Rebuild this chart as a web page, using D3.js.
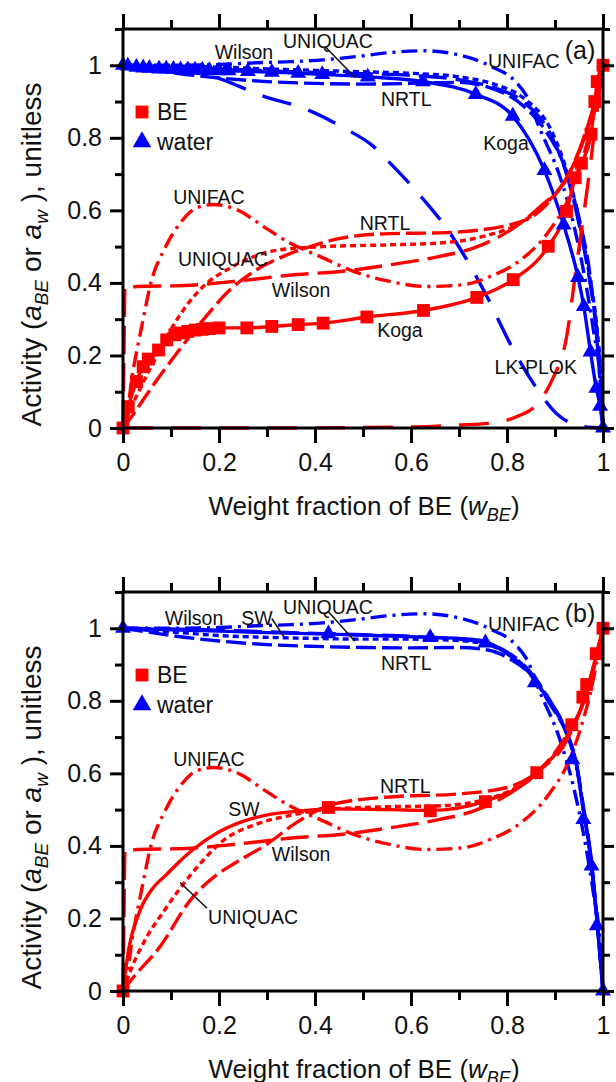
<!DOCTYPE html>
<html>
<head>
<meta charset="utf-8">
<script src="https://cdn.jsdelivr.net/npm/d3@7"></script>
<style>
  body { margin: 0; background: #fff; }
  svg { display: block; }
  text { font-family: "Liberation Sans", Arial, sans-serif; fill: #111; }
</style>
</head>
<body>
<svg id="chart" width="616" height="1082"></svg>
<script>
const xTicks = [0, 0.2, 0.4, 0.6, 0.8, 1]
const yTicks = [0, 0.2, 0.4, 0.6, 0.8, 1]
const xMinor = [0.1, 0.3, 0.5, 0.7, 0.9]
const yMinor = [0.1, 0.3, 0.5, 0.7, 0.9, 1.1]

// panel (a) measured data, Koga
const beKogaA = [[0, 0], [0.011, 0.059], [0.028, 0.128], [0.042, 0.169], [0.053, 0.19], [0.074, 0.215], [0.091, 0.243], [0.108, 0.257], [0.12, 0.262], [0.135, 0.266], [0.15, 0.27], [0.165, 0.272], [0.18, 0.274], [0.2, 0.276], [0.258, 0.276], [0.31, 0.28], [0.365, 0.285], [0.417, 0.289], [0.508, 0.306], [0.626, 0.324], [0.737, 0.36], [0.813, 0.409], [0.886, 0.501], [0.924, 0.597], [0.942, 0.69], [0.955, 0.73], [0.975, 0.81], [0.983, 0.9], [0.988, 0.955], [1, 1]]
const waterKogaA = [[0, 1], [0.01, 0.998], [0.028, 0.995], [0.042, 0.993], [0.055, 0.992], [0.075, 0.99], [0.09, 0.99], [0.105, 0.989], [0.12, 0.988], [0.135, 0.988], [0.15, 0.987], [0.165, 0.987], [0.18, 0.986], [0.2, 0.985], [0.22, 0.985], [0.26, 0.983], [0.31, 0.981], [0.365, 0.978], [0.415, 0.975], [0.51, 0.968], [0.625, 0.955], [0.735, 0.92], [0.812, 0.86], [0.878, 0.71], [0.918, 0.56], [0.948, 0.415], [0.96, 0.335], [0.974, 0.21], [0.986, 0.11], [0.994, 0.06], [1, 0]]

// panel (b) measured data
const beDataB = [[0, 0], [0.428, 0.506], [0.64, 0.497], [0.755, 0.522], [0.862, 0.602], [0.935, 0.734], [0.958, 0.81], [0.966, 0.845], [0.986, 0.93], [1, 1]]
const waterDataB = [[0, 1], [0.428, 0.985], [0.64, 0.975], [0.755, 0.96], [0.858, 0.85], [0.936, 0.638], [0.959, 0.473], [0.976, 0.345], [0.987, 0.18], [1, 0]]

// model curves, BE activity
const beUnifac = [[0, 0], [0.004, 0.01], [0.02, 0.15], [0.039, 0.28], [0.06, 0.41], [0.084, 0.487], [0.122, 0.57], [0.153, 0.607], [0.188, 0.616], [0.237, 0.602], [0.292, 0.556], [0.348, 0.51], [0.41, 0.473], [0.48, 0.432], [0.556, 0.404], [0.633, 0.39], [0.709, 0.395], [0.765, 0.418], [0.82, 0.455], [0.89, 0.547], [0.924, 0.62], [0.95, 0.71], [0.975, 0.83], [1, 1]]
const beWilson = [[0, 0], [0.002, 0.2], [0.004, 0.385], [0.03, 0.39], [0.13, 0.393], [0.23, 0.404], [0.362, 0.423], [0.458, 0.432], [0.556, 0.45], [0.66, 0.473], [0.73, 0.496], [0.8, 0.54], [0.87, 0.611], [0.918, 0.676], [0.96, 0.8], [0.985, 0.91], [1, 1]]
const beNrtlA = [[0, 0], [0.02, 0.035], [0.056, 0.105], [0.112, 0.206], [0.167, 0.298], [0.223, 0.381], [0.278, 0.436], [0.334, 0.473], [0.39, 0.5], [0.45, 0.522], [0.556, 0.536], [0.66, 0.538], [0.75, 0.547], [0.806, 0.56], [0.854, 0.584], [0.903, 0.648], [0.95, 0.76], [0.98, 0.88], [1, 1]]
const beUniquacA = [[0, 0], [0.015, 0.05], [0.04, 0.12], [0.077, 0.215], [0.112, 0.298], [0.167, 0.39], [0.223, 0.441], [0.32, 0.49], [0.417, 0.5], [0.556, 0.505], [0.66, 0.51], [0.75, 0.528], [0.834, 0.57], [0.89, 0.63], [0.93, 0.7], [0.96, 0.8], [0.985, 0.91], [1, 1]]
const beLkPlok = [[0, 0], [0.3, 0], [0.6, 0.003], [0.695, 0.008], [0.765, 0.013], [0.82, 0.031], [0.862, 0.065], [0.893, 0.13], [0.924, 0.25], [0.945, 0.45], [0.959, 0.58], [0.975, 0.74], [0.99, 0.9], [1, 1]]
const beSwB = [[0, 0], [0.01, 0.1], [0.035, 0.22], [0.06, 0.28], [0.09, 0.32], [0.12, 0.36], [0.146, 0.39], [0.195, 0.435], [0.244, 0.465], [0.306, 0.487], [0.376, 0.497], [0.428, 0.502], [0.556, 0.5], [0.64, 0.498], [0.754, 0.523], [0.865, 0.603], [0.924, 0.7], [0.96, 0.8], [0.985, 0.92], [1, 1]]
const beUniquacB = [[0, 0], [0.02, 0.07], [0.05, 0.15], [0.085, 0.22], [0.12, 0.285], [0.16, 0.35], [0.209, 0.415], [0.278, 0.46], [0.348, 0.484], [0.42, 0.5], [0.55, 0.508], [0.65, 0.51], [0.755, 0.528], [0.86, 0.6], [0.92, 0.69], [0.96, 0.8], [0.985, 0.92], [1, 1]]
const beNrtlB = [[0, 0], [0.02, 0.035], [0.077, 0.122], [0.14, 0.25], [0.195, 0.32], [0.23, 0.35], [0.3, 0.405], [0.362, 0.465], [0.438, 0.515], [0.556, 0.535], [0.695, 0.543], [0.8, 0.561], [0.869, 0.612], [0.917, 0.69], [0.96, 0.8], [0.985, 0.92], [1, 1]]

// model curves, water activity
const wUnifac = [[0, 1], [0.1, 1], [0.2, 1.002], [0.278, 1.007], [0.35, 1.01], [0.417, 1.015], [0.487, 1.024], [0.556, 1.035], [0.626, 1.04], [0.695, 1.03], [0.765, 0.998], [0.82, 0.952], [0.841, 0.915], [0.869, 0.823], [0.91, 0.694], [0.938, 0.566], [0.959, 0.436], [0.98, 0.27], [0.994, 0.133], [1, 0]]
const wLkPlok = [[0, 1], [0.1, 0.99], [0.195, 0.966], [0.292, 0.915], [0.383, 0.878], [0.459, 0.828], [0.521, 0.777], [0.556, 0.731], [0.626, 0.63], [0.681, 0.538], [0.716, 0.464], [0.758, 0.363], [0.806, 0.234], [0.855, 0.123], [0.903, 0.04], [0.959, 0.004], [1, 0]]
const wWilsonA = [[0, 1], [0.1, 0.995], [0.2, 0.99], [0.3, 0.985], [0.4, 0.98], [0.5, 0.977], [0.6, 0.972], [0.7, 0.96], [0.78, 0.935], [0.834, 0.9], [0.896, 0.795], [0.924, 0.7], [0.952, 0.55], [0.973, 0.4], [0.987, 0.27], [0.996, 0.12], [1, 0]]
const wUniquacA = [[0, 1], [0.1, 0.998], [0.2, 0.995], [0.3, 0.99], [0.4, 0.986], [0.5, 0.982], [0.6, 0.978], [0.7, 0.968], [0.78, 0.945], [0.834, 0.91], [0.896, 0.81], [0.924, 0.71], [0.952, 0.56], [0.973, 0.41], [0.987, 0.28], [0.996, 0.13], [1, 0]]
const wNrtlA = [[0, 1], [0.05, 0.99], [0.1, 0.98], [0.2, 0.965], [0.3, 0.955], [0.4, 0.95], [0.5, 0.948], [0.6, 0.95], [0.695, 0.953], [0.765, 0.938], [0.834, 0.888], [0.88, 0.82], [0.92, 0.72], [0.95, 0.58], [0.975, 0.4], [0.99, 0.2], [1, 0]]
const wSwB = [[0, 1], [0.1, 0.996], [0.2, 0.992], [0.3, 0.988], [0.428, 0.984], [0.55, 0.979], [0.64, 0.975], [0.7, 0.972], [0.75, 0.965], [0.8, 0.93], [0.834, 0.895], [0.89, 0.794], [0.924, 0.712], [0.945, 0.62], [0.959, 0.5], [0.973, 0.382], [0.987, 0.2], [1, 0]]
const wWilsonB = [[0, 1], [0.1, 0.998], [0.2, 0.995], [0.3, 0.99], [0.4, 0.986], [0.5, 0.982], [0.6, 0.978], [0.7, 0.97], [0.75, 0.962], [0.8, 0.935], [0.834, 0.9], [0.89, 0.8], [0.924, 0.715], [0.945, 0.625], [0.959, 0.51], [0.973, 0.39], [0.987, 0.21], [1, 0]]
const wUniquacB = [[0, 1], [0.1, 0.99], [0.2, 0.98], [0.3, 0.975], [0.4, 0.972], [0.5, 0.97], [0.6, 0.97], [0.7, 0.966], [0.75, 0.958], [0.8, 0.932], [0.834, 0.898], [0.89, 0.798], [0.924, 0.713], [0.945, 0.622], [0.959, 0.505], [0.973, 0.385], [0.987, 0.205], [1, 0]]
const wNrtlB = [[0, 1], [0.05, 0.99], [0.1, 0.98], [0.2, 0.965], [0.3, 0.955], [0.4, 0.95], [0.5, 0.947], [0.6, 0.946], [0.7, 0.947], [0.76, 0.94], [0.8, 0.92], [0.85, 0.87], [0.89, 0.79], [0.924, 0.71], [0.945, 0.62], [0.959, 0.5], [0.973, 0.38], [0.987, 0.2], [1, 0]]

// text labels [text, x, y]
const labelsA = [['Wilson', 0.252, 1.036], ['UNIQUAC', 0.427, 1.066], ['UNIFAC', 0.835, 1.011], ['NRTL', 0.59, 0.906], ['Koga', 0.798, 0.787],
  ['UNIFAC', 0.179, 0.638], ['NRTL', 0.546, 0.566], ['UNIQUAC', 0.208, 0.467], ['Wilson', 0.371, 0.381], ['Koga', 0.577, 0.271], ['LK-PLOK', 0.86, 0.169]]
const labelsB = [['Wilson', 0.148, 1.027], ['SW', 0.279, 1.027], ['UNIQUAC', 0.427, 1.058], ['UNIFAC', 0.835, 1.011], ['NRTL', 0.59, 0.904],
  ['UNIFAC', 0.179, 0.64], ['SW', 0.252, 0.503], ['NRTL', 0.588, 0.566], ['Wilson', 0.371, 0.379], ['UNIQUAC', 0.271, 0.203]]
const leadersA = [[[0.421, 1.052], [0.483, 0.967]]]
const leadersB = [[[0.31, 1.027], [0.335, 0.977]], [[0.427, 1.047], [0.483, 0.964]], [[0.175, 0.228], [0.119, 0.299]]]

const RED = '#ff0000'
const BLUE = '#0000ff'
const dash = {
  unifac: '16,6,3,6',
  nrtl: '20,6',
  wilson: '28,9',
  uniquac: '6,4',
  lk: '30,18',
  solid: null
}

const svg = d3.select('#chart')
const x = d3.scaleLinear().domain([0, 1]).range([123, 603])
const fmt = d3.format('~g')

function drawPanel (top, bottom, tag, curves, beData, waterData, labels, leaders) {
  const y = d3.scaleLinear().domain([0, 1.1]).range([bottom, top])
  const g = svg.append('g')

  const line = d3.line()
    .x(d => x(d[0]))
    .y(d => y(d[1]))
    .curve(d3.curveMonotoneX)

  g.selectAll('path.curve')
    .data(curves)
    .enter().append('path')
    .attr('class', 'curve')
    .attr('d', d => line(d.pts))
    .attr('fill', 'none')
    .attr('stroke', d => d.color)
    .attr('stroke-width', 3.4)
    .attr('stroke-dasharray', d => dash[d.style])

  g.selectAll('path.sq')
    .data(beData)
    .enter().append('path')
    .attr('class', 'sq')
    .attr('transform', d => `translate(${x(d[0])},${y(d[1])})`)
    .attr('d', d3.symbol(d3.symbolSquare, 165))
    .attr('fill', RED)

  g.selectAll('path.tri')
    .data(waterData)
    .enter().append('path')
    .attr('class', 'tri')
    .attr('transform', d => `translate(${x(d[0])},${y(d[1])})`)
    .attr('d', d3.symbol(d3.symbolTriangle, 110))
    .attr('fill', BLUE)

  // leaders
  g.selectAll('line.leader')
    .data(leaders)
    .enter().append('line')
    .attr('x1', d => x(d[0][0])).attr('y1', d => y(d[0][1]))
    .attr('x2', d => x(d[1][0])).attr('y2', d => y(d[1][1]))
    .attr('stroke', '#111')
    .attr('stroke-width', 1.5)

  g.selectAll('text.lab')
    .data(labels)
    .enter().append('text')
    .attr('x', d => x(d[1]))
    .attr('y', d => y(d[2]))
    .attr('dy', '0.36em')
    .attr('text-anchor', 'middle')
    .attr('font-size', 19.5)
    .text(d => d[0])

  g.append('text')
    .attr('x', x(0.952)).attr('y', top + 21)
    .attr('dy', '0.36em')
    .attr('text-anchor', 'middle')
    .attr('font-size', 25)
    .text(tag)

  // legend
  const leg = g.append('g').attr('transform', `translate(${x(0) + 19},${top + 83})`)
  leg.append('path').attr('d', d3.symbol(d3.symbolSquare, 165)).attr('fill', RED)
  leg.append('text').attr('x', 15).attr('dy', '0.36em').attr('font-size', 23).text('BE')
  leg.append('path').attr('transform', 'translate(0,30)').attr('d', d3.symbol(d3.symbolTriangle, 150)).attr('fill', BLUE)
  leg.append('text').attr('x', 15).attr('y', 30).attr('dy', '0.36em').attr('font-size', 23).text('water')

  // frame and axes
  g.append('rect')
    .attr('x', x(0)).attr('y', top)
    .attr('width', x(1) - x(0)).attr('height', bottom - top)
    .attr('fill', 'none').attr('stroke', '#000').attr('stroke-width', 3)

  const styleAxis = sel => {
    sel.select('.domain').remove()
    sel.selectAll('line').attr('stroke', '#000').attr('stroke-width', 3)
    sel.selectAll('text').attr('font-size', 25).attr('fill', '#111').attr('font-family', '"Liberation Sans", Arial, sans-serif')
  }

  g.append('g').attr('transform', `translate(0,${bottom})`)
    .call(d3.axisBottom(x).tickValues(xTicks).tickFormat(fmt).tickSize(15).tickPadding(10))
    .call(styleAxis)
  g.append('g').attr('transform', `translate(0,${bottom})`)
    .call(d3.axisBottom(x).tickValues(xMinor).tickFormat('').tickSize(9))
    .call(styleAxis)
  g.append('g').attr('transform', `translate(0,${top})`)
    .call(d3.axisTop(x).tickValues(xTicks).tickFormat('').tickSize(15))
    .call(styleAxis)
  g.append('g').attr('transform', `translate(0,${top})`)
    .call(d3.axisTop(x).tickValues(xMinor).tickFormat('').tickSize(9))
    .call(styleAxis)
  g.append('g').attr('transform', `translate(${x(0)},0)`)
    .call(d3.axisLeft(y).tickValues(yTicks).tickFormat(fmt).tickSize(13).tickPadding(8))
    .call(styleAxis)
  g.append('g').attr('transform', `translate(${x(0)},0)`)
    .call(d3.axisLeft(y).tickValues(yMinor).tickFormat('').tickSize(8))
    .call(styleAxis)
  g.append('g').attr('transform', `translate(${x(1)},0)`)
    .call(d3.axisRight(y).tickValues(yTicks).tickFormat('').tickSize(11))
    .call(styleAxis)
  g.append('g').attr('transform', `translate(${x(1)},0)`)
    .call(d3.axisRight(y).tickValues(yMinor).tickFormat('').tickSize(7))
    .call(styleAxis)

  // axis titles
  const xt = g.append('text')
    .attr('x', 364).attr('y', bottom + 87)
    .attr('text-anchor', 'middle')
    .attr('font-size', 26)
  xt.append('tspan').text('Weight fraction of BE (')
  xt.append('tspan').attr('font-style', 'italic').text('w')
  xt.append('tspan').attr('font-style', 'italic').attr('font-size', 18).attr('dy', 6).text('BE')
  xt.append('tspan').attr('dy', -6).text(')')

  const yt = g.append('text')
    .attr('transform', `translate(41,${(top + bottom) / 2 + 26}) rotate(-90)`)
    .attr('text-anchor', 'middle')
    .attr('font-size', 28)
  yt.append('tspan').text('Activity (')
  yt.append('tspan').attr('font-style', 'italic').text('a')
  yt.append('tspan').attr('font-style', 'italic').attr('font-size', 19).attr('dy', 7).text('BE')
  yt.append('tspan').attr('dy', -7).text(' or ')
  yt.append('tspan').attr('font-style', 'italic').text('a')
  yt.append('tspan').attr('font-style', 'italic').attr('font-size', 19).attr('dy', 7).text('w')
  yt.append('tspan').attr('dy', -7).text(' ), unitless')
}

drawPanel(29, 428, '(a)', [
  { pts: wLkPlok, color: BLUE, style: 'lk' },
  { pts: wNrtlA, color: BLUE, style: 'nrtl' },
  { pts: wWilsonA, color: BLUE, style: 'wilson' },
  { pts: wUniquacA, color: BLUE, style: 'uniquac' },
  { pts: wUnifac, color: BLUE, style: 'unifac' },
  { pts: waterKogaA, color: BLUE, style: 'solid' },
  { pts: beLkPlok, color: RED, style: 'lk' },
  { pts: beNrtlA, color: RED, style: 'nrtl' },
  { pts: beWilson, color: RED, style: 'wilson' },
  { pts: beUniquacA, color: RED, style: 'uniquac' },
  { pts: beUnifac, color: RED, style: 'unifac' },
  { pts: beKogaA, color: RED, style: 'solid' }
], beKogaA, waterKogaA, labelsA, leadersA)

drawPanel(592, 991, '(b)', [
  { pts: wNrtlB, color: BLUE, style: 'nrtl' },
  { pts: wWilsonB, color: BLUE, style: 'wilson' },
  { pts: wUniquacB, color: BLUE, style: 'uniquac' },
  { pts: wUnifac, color: BLUE, style: 'unifac' },
  { pts: wSwB, color: BLUE, style: 'solid' },
  { pts: beNrtlB, color: RED, style: 'nrtl' },
  { pts: beWilson, color: RED, style: 'wilson' },
  { pts: beUniquacB, color: RED, style: 'uniquac' },
  { pts: beUnifac, color: RED, style: 'unifac' },
  { pts: beSwB, color: RED, style: 'solid' }
], beDataB, waterDataB, labelsB, leadersB)
</script>
</body>
</html>
